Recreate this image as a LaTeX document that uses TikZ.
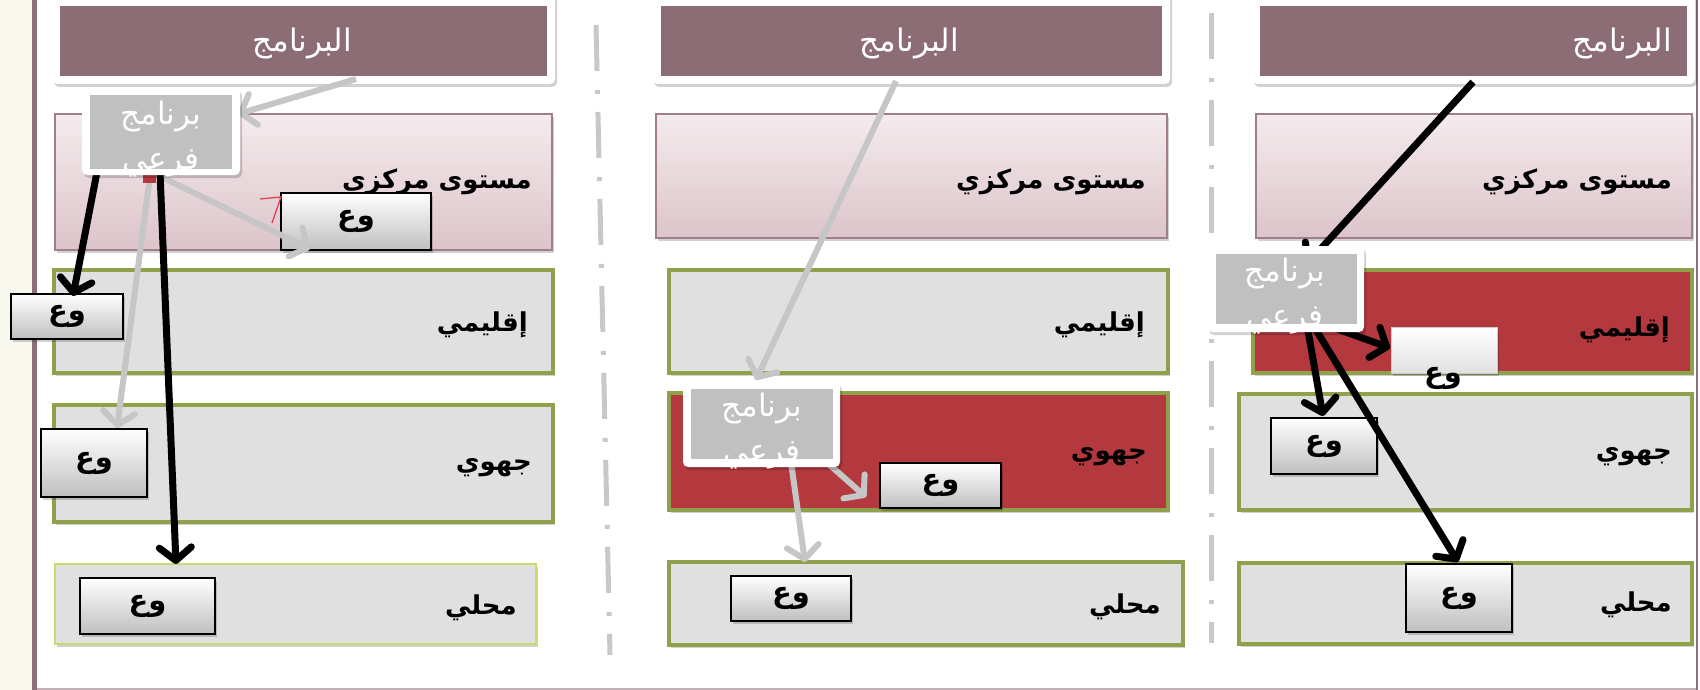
\documentclass[tikz,border=0pt]{standalone}
\usepackage{fontspec}
\newfontfamily\arabicfont[Script=Arabic]{DejaVu Sans}
\TeXXeTstate=1
\usetikzlibrary{arrows.meta,fit,shadows}
\definecolor{mauve}{HTML}{8C6D75}
\definecolor{framec}{HTML}{8E6F79}
\definecolor{cream}{HTML}{F8F8EF}
\definecolor{cenTop}{HTML}{F4EBED}
\definecolor{cenBot}{HTML}{DCC4CA}
\definecolor{cenLine}{HTML}{A07F89}
\definecolor{lvlGray}{HTML}{E0E0E0}
\definecolor{olive}{HTML}{8FA14B}
\definecolor{lvlRed}{HTML}{B3393F}
\definecolor{lightgreen}{HTML}{C6DA6E}
\definecolor{subGray}{HTML}{C0C0C0}
\definecolor{arrGray}{HTML}{C6C6C6}
\definecolor{sepGray}{HTML}{C8C8C8}
\definecolor{markRed}{HTML}{E04050}
\newcommand\artext[1]{\beginR #1\endR}
\begin{document}
\begin{tikzpicture}[x=1pt,y=-1pt,
  shad/.style={drop shadow={shadow xshift=2pt,shadow yshift=-3pt,fill=black,opacity=0.18}},
  progout/.style={fill=white,rounded corners=5pt,inner sep=0pt,shad},
  progin/.style={fill=mauve,inner sep=0pt},
  htext/.style={text=white,inner sep=0pt,font=\arabicfont\fontsize{31}{36}\selectfont},
  central/.style={top color=cenTop,bottom color=cenBot,draw=cenLine,line width=1.5pt,inner sep=0pt,shad},
  level/.style={fill=lvlGray,draw=olive,line width=3.5pt,inner sep=0pt,shad},
  redlevel/.style={level,fill=lvlRed},
  localone/.style={fill=lvlGray,draw=lightgreen,line width=1.5pt,inner sep=0pt,shad},
  lbl/.style={anchor=east,inner sep=0pt,font=\arabicfont\bfseries\fontsize{26}{30}\selectfont},
  wbox/.style={top color=white,bottom color=black!25,draw=black,line width=1.5pt,inner sep=0pt,shad,
    font=\arabicfont\bfseries\fontsize{29}{32}\selectfont},
  wboxlight/.style={top color=white,bottom color=black!12,draw=black!20,line width=0.8pt,inner sep=0pt,shad},
  wtext/.style={inner sep=0pt,font=\arabicfont\bfseries\fontsize{29}{32}\selectfont},
  subout/.style={fill=white,rounded corners=5pt,inner sep=0pt,shad},
  subin/.style={fill=subGray,inner sep=0pt},
  subtext/.style={text=white,align=center,inner sep=0pt,font=\arabicfont\fontsize{31}{45}\selectfont},
  sep/.style={draw=sepGray,line width=5pt,dash pattern=on 46pt off 19pt on 4pt off 18pt},
  garrow/.style={draw=arrGray,line width=6pt,-{Straight Barb[length=13pt,width=32pt,round]}},
  barrow/.style={draw=black,line width=7pt,-{Straight Barb[length=13pt,width=32pt,round]}}
]
\useasboundingbox (0,0) rectangle (1700,690);
% frame
\fill[cream] (0,0) rectangle (32,690);
\fill[framec] (32,0) rectangle (37,690);
\draw[framec!55,line width=2pt] (37,689) -- (1697,689);
\draw[framec,line width=2pt] (1697,0) -- (1697,690);
% separators
\draw[sep] (596,25) -- (610,655);
\draw[sep] (1211,13) -- (1211,643);

% ===== column 1 =====
\node[progout,fit={(52,-8)(555,84)}] (h1o) {};
\node[progin,fit={(60,6)(547,76)}] (h1) {};
\node[htext] (h1t) at (302,44) {\artext{البرنامج}};
\node[central,fit={(55,114)(552,250)}] (c1) {};
\node[level,fit={(54,270)(553,373)}] (r1) {};
\node[level,fit={(54,405)(553,522)}] (j1) {};
\node[localone,fit={(55,564)(536,644)}] (l1) {};
\node[lbl] (c1t) at (532,182) {\artext{مستوى مركزي}};
\node[lbl] (r1t) at (528,325) {\artext{إقليمي}};
\node[lbl] (j1t) at (532,468) {\artext{جهوي}};
\node[lbl] (l1t) at (517,608) {\artext{محلي}};
\node[wbox,minimum width=150pt,minimum height=57pt] (wA) at (356,221.5) {\artext{وع}};
\node[wbox,minimum width=112pt,minimum height=45pt] (wB) at (67,316.5) {\artext{وع}};
\node[wbox,minimum width=106pt,minimum height=68pt] (wC) at (94,463) {\artext{وع}};
\node[wbox,minimum width=135pt,minimum height=56pt] (wD) at (147.5,606) {\artext{وع}};
\draw[markRed,line width=1.3pt] (260,199) -- (281,197) -- (272,223);
\coordinate (s1a) at (356,79);  \coordinate (t1a) at (238,114);
\coordinate (s1b) at (97,172);  \coordinate (t1b) at (73,296);
\coordinate (s1c) at (153,173); \coordinate (t1c) at (310,249);
\coordinate (s1d) at (150,176); \coordinate (t1d) at (117,428);
\coordinate (s1e) at (160,172); \coordinate (t1e) at (176,564);
\draw[garrow] (s1c) -- (t1c);
\draw[garrow] (s1d) -- (t1d);
\draw[barrow] (s1b) -- (t1b);
\draw[barrow] (s1e) -- (t1e);
\fill[lvlRed] (143,168) rectangle (156,183);
\draw[garrow] (s1a) -- (t1a);
\node[subout,fit={(82,88)(240,175)}] (sub1o) {};
\node[subin,fit={(90,95)(232,169)}] (sub1) {};
\node[subtext,anchor=north] (sub1t) at (161,101) {\artext{برنامج}\\\artext{فرعي}};

% ===== column 2 =====
\node[progout,fit={(652,-8)(1170,84)}] (h2o) {};
\node[progin,fit={(661,6)(1162,76)}] (h2) {};
\node[htext] (h2t) at (909,44) {\artext{البرنامج}};
\node[central,fit={(656,114)(1167,238)}] (c2) {};
\node[level,fit={(669,270)(1168,373)}] (r2) {};
\node[redlevel,fit={(669,393)(1168,510)}] (j2) {};
\node[level,fit={(669,562)(1183,645)}] (l2) {};
\node[lbl] (c2t) at (1146,182) {\artext{مستوى مركزي}};
\node[lbl] (r2t) at (1145,325) {\artext{إقليمي}};
\node[lbl] (j2t) at (1147,457) {\artext{جهوي}};
\node[lbl] (l2t) at (1161,607) {\artext{محلي}};
\node[wbox,minimum width=121pt,minimum height=45pt] (wE) at (940.5,485.5) {\artext{وع}};
\node[wbox,minimum width=120pt,minimum height=45pt] (wF) at (791,598.5) {\artext{وع}};
\coordinate (s2a) at (896,81);  \coordinate (t2a) at (756,380);
\coordinate (s2b) at (815,452); \coordinate (t2b) at (866,497);
\coordinate (s2c) at (790,455); \coordinate (t2c) at (805,562);
\draw[garrow] (s2a) -- (t2a);
\draw[garrow] (s2b) -- (t2b);
\draw[garrow] (s2c) -- (t2c);
\node[subout,fit={(683,382)(840,467)}] (sub2o) {};
\node[subin,fit={(691,389)(833,459)}] (sub2) {};
\node[subtext,anchor=north] (sub2t) at (762,393) {\artext{برنامج}\\\artext{فرعي}};

% ===== column 3 =====
\node[progout,fit={(1252,-8)(1695,84)}] (h3o) {};
\node[progin,fit={(1260,6)(1687,76)}] (h3) {};
\node[htext,anchor=east] (h3t) at (1672,44) {\artext{البرنامج}};
\node[central,fit={(1256,114)(1692,238)}] (c3) {};
\node[redlevel,fit={(1253,270)(1692,373)}] (r3) {};
\node[level,fit={(1239,394)(1692,510)}] (j3) {};
\node[level,fit={(1239,563)(1692,644)}] (l3) {};
\node[lbl] (c3t) at (1672,182) {\artext{مستوى مركزي}};
\node[lbl] (r3t) at (1670,330) {\artext{إقليمي}};
\node[lbl] (j3t) at (1672,457) {\artext{جهوي}};
\node[lbl] (l3t) at (1672,605) {\artext{محلي}};
\node[wboxlight,minimum width=106pt,minimum height=46pt] (wI) at (1444,350) {};
\node[wtext] (wIt) at (1443,378) {\artext{وع}};
\node[wbox,minimum width=106pt,minimum height=56pt] (wG) at (1324,446) {\artext{وع}};
\node[wbox,minimum width=106pt,minimum height=68pt] (wH) at (1459,598) {\artext{وع}};
\coordinate (s3a) at (1473,82);  \coordinate (t3a) at (1306,265);
\coordinate (s3b) at (1318,322); \coordinate (t3b) at (1390,348);
\coordinate (s3c) at (1307,325); \coordinate (t3c) at (1323,416);
\coordinate (s3d) at (1313,325); \coordinate (t3d) at (1458,562);
\draw[barrow] (s3a) -- (t3a);
\draw[barrow] (s3b) -- (t3b);
\draw[barrow] (s3c) -- (t3c);
\draw[barrow] (s3d) -- (t3d);
\node[subout,fit={(1207,246)(1364,332)}] (sub3o) {};
\node[subin,fit={(1216,254)(1357,324)}] (sub3) {};
\node[subtext,anchor=north] (sub3t) at (1285,258) {\artext{برنامج}\\\artext{فرعي}};
\end{tikzpicture}
\end{document}
